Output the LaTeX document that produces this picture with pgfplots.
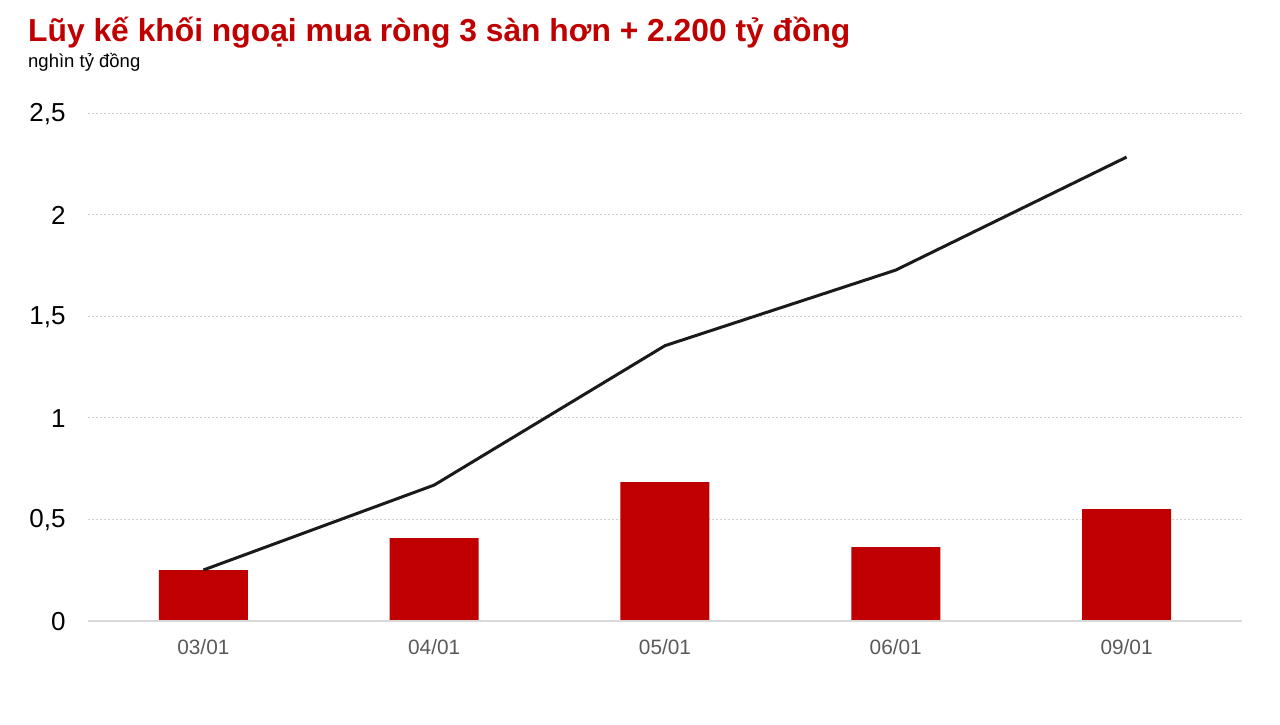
\documentclass[border=0pt]{standalone}
\usepackage{pgfplots}
\pgfplotsset{compat=1.18}
\usepackage{fontspec}
\setmainfont{Liberation Sans}
\definecolor{barred}{HTML}{C00000}
\definecolor{titlered}{HTML}{C00000}
\definecolor{gridgray}{HTML}{D0D0D0}
\definecolor{basegray}{HTML}{D9D9D9}
\definecolor{xlab}{HTML}{595959}
\definecolor{linec}{HTML}{1A1A1A}
\begin{document}
\begin{tikzpicture}[x=1pt,y=1pt]
\path[use as bounding box] (0,0) rectangle (1280,-725);
\node[anchor=base west, inner sep=0pt, text=titlered, font=\fontsize{31.8}{36}\selectfont\bfseries] at (28,-41.5) {Lũy kế khối ngoại mua ròng 3 sàn hơn + 2.200 tỷ đồng};
\node[anchor=base west, inner sep=0pt, font=\fontsize{18.5}{22}\selectfont] at (28,-68) {nghìn tỷ đồng};
\begin{axis}[
  at={(88pt,-621pt)}, anchor=south west,
  scale only axis, width=1154pt, height=508pt,
  xmin=-0.5, xmax=4.5, ymin=0, ymax=2.5,
  xtick={0,1,2,3,4},
  xticklabels={03/01,04/01,05/01,06/01,09/01},
  ytick={0,0.5,1,1.5,2,2.5},
  yticklabels={0,{0,5},1,{1,5},2,{2,5}},
  axis line style={draw=none},
  axis x line*=bottom,
  axis y line*=left,
  tick style={draw=none},
  ymajorgrids,
  grid style={gridgray, line width=0.8pt, dash pattern=on 2pt off 2pt},
  y tick label style={font=\fontsize{26}{30}\selectfont, text=black, xshift=-19pt, yshift=-1pt},
  x tick label style={font=\fontsize{20.8}{24}\selectfont, text=xlab, yshift=-15pt},
  clip=false,
]
\addplot[ybar, bar width=89pt, fill=barred, draw=none] coordinates {
(0,0.251) (1,0.408) (2,0.684) (3,0.364) (4,0.551)};
\addplot[linec, line width=3pt, mark=none] coordinates {
(0,0.251) (1,0.669) (2,1.355) (3,1.727) (4,2.283)};
\draw[basegray, line width=1.2pt] (axis cs:-0.5,0) -- (axis cs:4.5,0);
\end{axis}
\end{tikzpicture}
\end{document}
